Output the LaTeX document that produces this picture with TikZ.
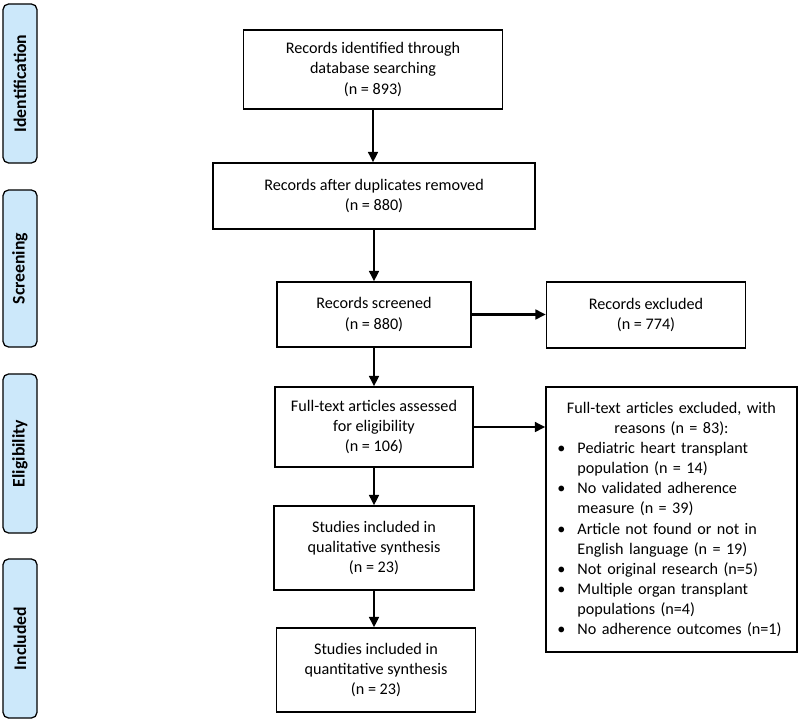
\documentclass[tikz,border=0pt]{standalone}
\usepackage{fontspec}
\setmainfont{Carlito}
\usepackage{enumitem}
\usepackage{tikz}
\usetikzlibrary{arrows.meta}
\usetikzlibrary{calc}
\definecolor{phaseblue}{RGB}{204,232,250}
\tikzset{
  flowbox/.style={draw=black, line width=0.9pt, fill=white, align=center,
    font=\fontsize{11.5pt}{14.3pt}\selectfont, inner sep=0pt},
  phasebox/.style={draw=black, line width=0.9pt, fill=phaseblue, rounded corners=4pt,
    minimum width=0.85cm, minimum height=3.95cm, inner sep=0pt,
    font=\fontsize{12.6pt}{15pt}\selectfont\bfseries},
  flowarrow/.style={line width=1.5pt, -{Triangle[length=7.5pt,width=7pt]}}
}

\begin{document}
\begin{tikzpicture}[x=0.025cm, y=-0.025cm]

    % Page frame
    \useasboundingbox (0,0) rectangle (800,721);

    % Phases on the left
    \node[phasebox, minimum height=3.975cm] (phident) at (20,83.5) {\rotatebox{90}{Identification}};
    \node[phasebox, minimum height=3.925cm] (phscreen) at (20,268.5) {\rotatebox{90}{Screening}};
    \node[phasebox, minimum height=3.975cm] (phelig) at (20,453.5) {\rotatebox{90}{Eligibility}};
    \node[phasebox, minimum height=3.975cm] (phincl) at (20,638.5) {\rotatebox{90}{Included}};

    % Boxes: main column
    \node[flowbox, minimum width=6.475cm, minimum height=1.975cm] (ident) at (373,69.5)
      {Records identified through\\database searching\\(n = 893)};
    \node[flowbox, minimum width=8.05cm, minimum height=1.65cm] (dup) at (374,196)
      {Records after duplicates removed\\(n = 880)};
    \node[flowbox, minimum width=4.85cm, minimum height=1.625cm] (screen) at (374,314.5)
      {Records screened\\(n = 880)};
    \node[flowbox, minimum width=4.95cm, minimum height=2.0cm] (full) at (374,427)
      {Full-text articles assessed\\for eligibility\\(n = 106)};
    \node[flowbox, minimum width=5.0cm, minimum height=2.1cm] (qual) at (374,548)
      {Studies included in\\qualitative synthesis\\(n = 23)};
    \node[flowbox, minimum width=4.975cm, minimum height=2.1cm] (quant) at (376,670)
      {Studies included in\\quantitative synthesis\\(n = 23)};

    % Boxes: exclusions
    \node[flowbox, minimum width=4.975cm, minimum height=1.65cm] (excl) at (646,315)
      {Records excluded\\(n = 774)};
    \node[flowbox, minimum width=6.275cm, minimum height=6.625cm, text width=5.7cm,
      align=left] (reasons) at (671.5,519.5)
      {\centering Full-text articles excluded, with\\reasons (n = 83):\par
       \begin{itemize}[leftmargin=0.5cm, labelsep=0.3cm, itemsep=0pt, topsep=0pt,
         parsep=0pt, partopsep=0pt]
         \item Pediatric heart transplant population (n = 14)
         \item No validated adherence measure (n = 39)
         \item Article not found or not in English language (n = 19)
         \item Not original research (n=5)
         \item Multiple organ transplant populations (n=4)
         \item No adherence outcomes (n=1)
       \end{itemize}};

    % Arrows: down the column
    \draw[flowarrow] (ident.south) -- (ident.south |- dup.north);
    \draw[flowarrow] (dup.south) -- (dup.south |- screen.north);
    \draw[flowarrow] (screen.south) -- (screen.south |- full.north);
    \draw[flowarrow] (full.south) -- (full.south |- qual.north);
    \draw[flowarrow] (qual.south) -- (qual.south |- quant.north);

    % Arrows: to the exclusions
    \draw[flowarrow] (screen.east) -- (screen.east -| excl.west);
    \draw[flowarrow] (full.east) -- (full.east -| reasons.west);

  \end{tikzpicture}
\end{document}
